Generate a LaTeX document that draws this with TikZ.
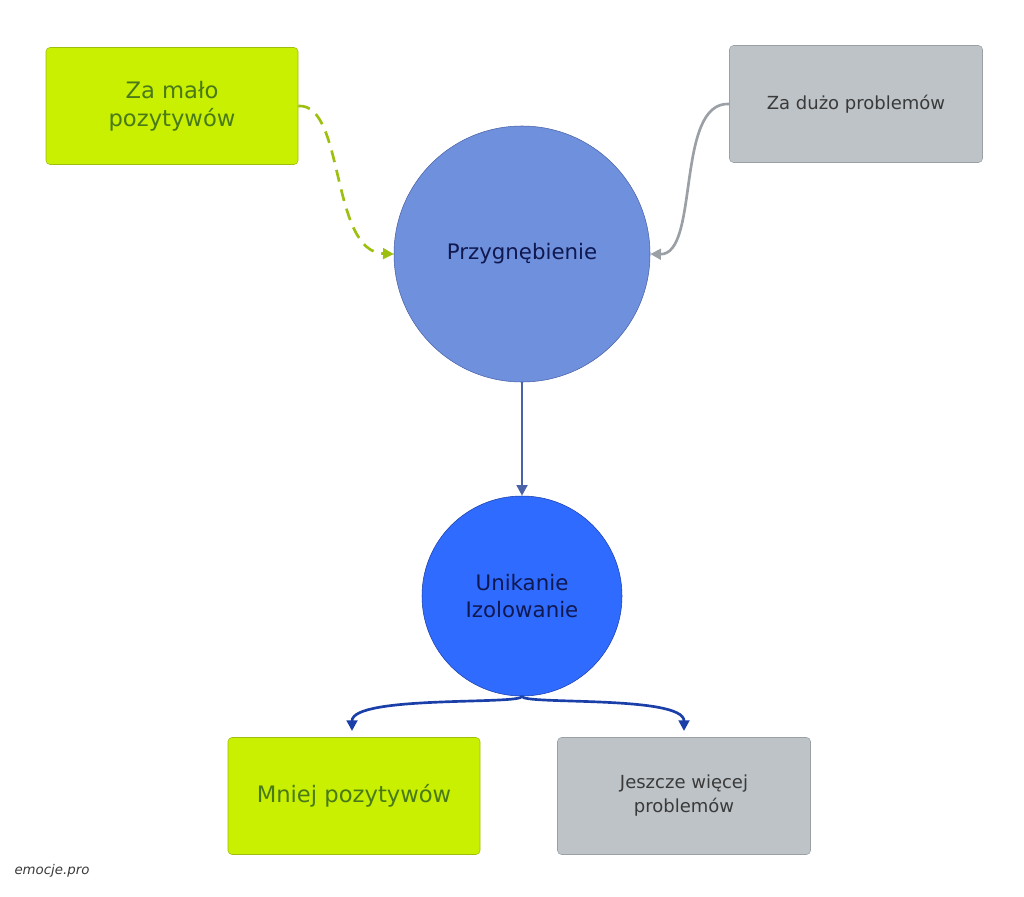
\documentclass[tikz,border=0pt]{standalone}
\usepackage{fontspec}
\setmainfont{DejaVu Sans}
\usetikzlibrary{arrows.meta}
\definecolor{lime}{HTML}{C8F000}
\definecolor{limeb}{HTML}{9CBF10}
\definecolor{limet}{HTML}{4A7A18}
\definecolor{grayf}{HTML}{BEC3C7}
\definecolor{grayb}{HTML}{9AA0A5}
\definecolor{grayt}{HTML}{3A3A3A}
\definecolor{pf}{HTML}{6F90DC}
\definecolor{pb}{HTML}{4A62A8}
\definecolor{uf}{HTML}{2F6BFF}
\definecolor{ub}{HTML}{1B3FA8}
\definecolor{navy}{HTML}{101850}
\begin{document}
\begin{tikzpicture}[x=0.75pt,y=-0.75pt,
 gbox/.style={draw=limeb,fill=lime,rounded corners=3pt,minimum width=252*0.75pt,minimum height=117*0.75pt,text=limet,align=center,inner sep=0},
 sbox/.style={draw=grayb,fill=grayf,rounded corners=3pt,minimum width=253*0.75pt,minimum height=117*0.75pt,text=grayt,align=center,inner sep=0},
 arr/.style={-{Triangle[length=8pt,width=8pt]},line width=2pt}]
\useasboundingbox (0,0) rectangle (1024,896);
\node[gbox,font=\fontsize{17}{21}\selectfont] (a) at (172,106) {Za mało\\pozytywów};
\node[sbox,font=\fontsize{13.5}{17}\selectfont] (d) at (856,104) {Za dużo problemów};
\node[circle,draw=pb,fill=pf,minimum size=256*0.75pt,text=navy,font=\fontsize{16}{20}\selectfont] (p) at (522,254) {Przygnębienie};
\node[circle,draw=ub,fill=uf,minimum size=200*0.75pt,text=navy,align=center,font=\fontsize{16}{20}\selectfont] (u) at (522,596) {Unikanie\\Izolowanie};
\node[gbox,font=\fontsize{17}{21}\selectfont] (m) at (354,796) {Mniej pozytywów};
\node[sbox,font=\fontsize{13.5}{18}\selectfont] (j) at (684,796) {Jeszcze więcej\\problemów};
\node[font=\fontsize{10}{12}\selectfont\rmfamily\itshape,text=grayt] (e) at (52,871) {emocje.pro};
\draw[arr,limeb,dashed,dash pattern=on 9pt off 6pt] (a.east) .. controls (345,103) and (330,252) .. (p.west);
\draw[arr,grayb] (d.west) .. controls (675,101) and (700,255) .. (p.east);
\draw[arr,pb] (p.south) -- (u.north);
\coordinate (m1) at (352,731);
\coordinate (j1) at (684,731);
\draw[arr,ub] (u.south) .. controls (522,705) and (352,695) .. (m1);
\draw[arr,ub] (u.south) .. controls (522,705) and (684,695) .. (j1);
\end{tikzpicture}
\end{document}
